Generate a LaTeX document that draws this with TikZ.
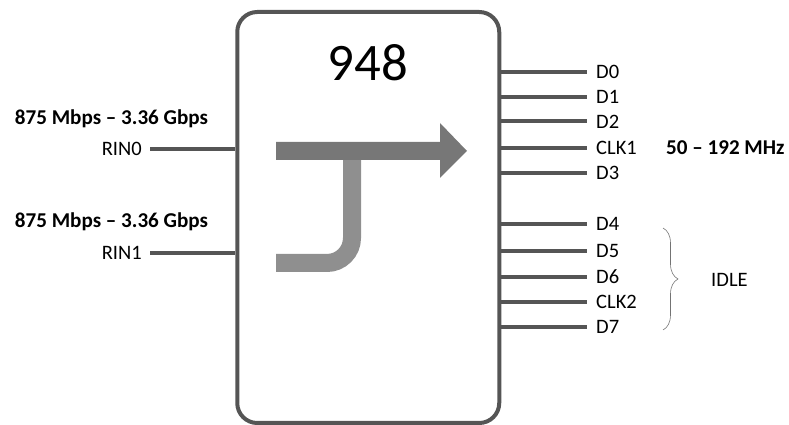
\documentclass[tikz,border=0pt]{standalone}
\usepackage{fontspec}
\setmainfont{Carlito}
\usepackage{tikz}
\usetikzlibrary{positioning, calc, decorations.pathreplacing}
\definecolor{pingray}{HTML}{555555}
\definecolor{darkflow}{HTML}{777777}
\definecolor{lightflow}{HTML}{8F8F8F}

\begin{document}
\begin{tikzpicture}[
  x=0.3mm, y=-0.3mm,
  font=\fontsize{17.5}{21}\selectfont,
  chip/.style={rectangle, rounded corners=6mm, draw=pingray, line width=1.2mm,
               minimum width=78.6mm, minimum height=123.3mm, inner sep=0pt},
  pin/.style={draw=pingray, line width=1.2mm},
  lpin/.style={anchor=east, inner sep=0pt, inner xsep=2.4mm},
  rpin/.style={anchor=west, inner sep=0pt, inner xsep=2.7mm},
  rate/.style={font=\fontsize{18}{21}\selectfont\bfseries, inner sep=0pt},
  mainflow/.style={fill=darkflow},
  sideflow/.style={draw=lightflow, line width=5.4mm, rounded corners=7.5mm},
  brace/.style={decorate, decoration={brace, amplitude=4.5mm}, draw=black!55, line width=0.5pt}
]
\useasboundingbox (0,0) rectangle (789,425);

% ---------------------------------------------- the device
\node[chip] (chip) at (368.25,217.5) {};
\node[font=\fontsize{45}{52}\selectfont] (num) at (368,63) {948};

% ---------------------------------------------- routing arrows
\draw[sideflow] (352,158) -- (352,263) -- (276,263);
\fill[mainflow] (276,142) -- (440,142) -- (440,123) -- (467,151)
  -- (440,178) -- (440,160) -- (276,160) -- cycle;

% ---------------------------------------------- left: inputs
\node[rate] (rate0) at (111.5,119) {875 Mbps -- 3.36 Gbps};
\node[lpin] (rin0) at (150,149) {RIN0};
\node[rate] (rate1) at (111.5,222) {875 Mbps -- 3.36 Gbps};
\node[lpin] (rin1) at (150,253) {RIN1};

\draw[pin] (rin0.east) -- (rin0.east -| chip.west);
\draw[pin] (rin1.east) -- (rin1.east -| chip.west);

% ---------------------------------------------- right: outputs
\node[rpin] (d0)   at (587, 71.7) {D0};
\node[rpin] (d1)   at (587, 96.7) {D1};
\node[rpin] (d2)   at (587,121.5) {D2};
\node[rpin] (clk1) at (587,147.7) {CLK1};
\node[rpin] (d3)   at (587,173.0) {D3};
\node[rpin] (d4)   at (587,224.0) {D4};
\node[rpin] (d5)   at (587,250.7) {D5};
\node[rpin] (d6)   at (587,276.7) {D6};
\node[rpin] (clk2) at (587,301.7) {CLK2};
\node[rpin] (d7)   at (587,326.7) {D7};

\draw[pin] (d0.west -| chip.east)   -- (d0.west);
\draw[pin] (d1.west -| chip.east)   -- (d1.west);
\draw[pin] (d2.west -| chip.east)   -- (d2.west);
\draw[pin] (clk1.west -| chip.east) -- (clk1.west);
\draw[pin] (d3.west -| chip.east)   -- (d3.west);
\draw[pin] (d4.west -| chip.east)   -- (d4.west);
\draw[pin] (d5.west -| chip.east)   -- (d5.west);
\draw[pin] (d6.west -| chip.east)   -- (d6.west);
\draw[pin] (clk2.west -| chip.east) -- (clk2.west);
\draw[pin] (d7.west -| chip.east)   -- (d7.west);

\node[rate, anchor=west] (clkrate) at (666,147.7) {50 -- 192 MHz};

% ---------------------------------------------- idle group
\coordinate (idletop) at (663,228);
\coordinate (idlebot) at (663,330);
\draw[brace] (idletop) -- (idlebot);
\node[anchor=west, inner sep=0pt] (idle) at (711,280) {IDLE};

\end{tikzpicture}
\end{document}
